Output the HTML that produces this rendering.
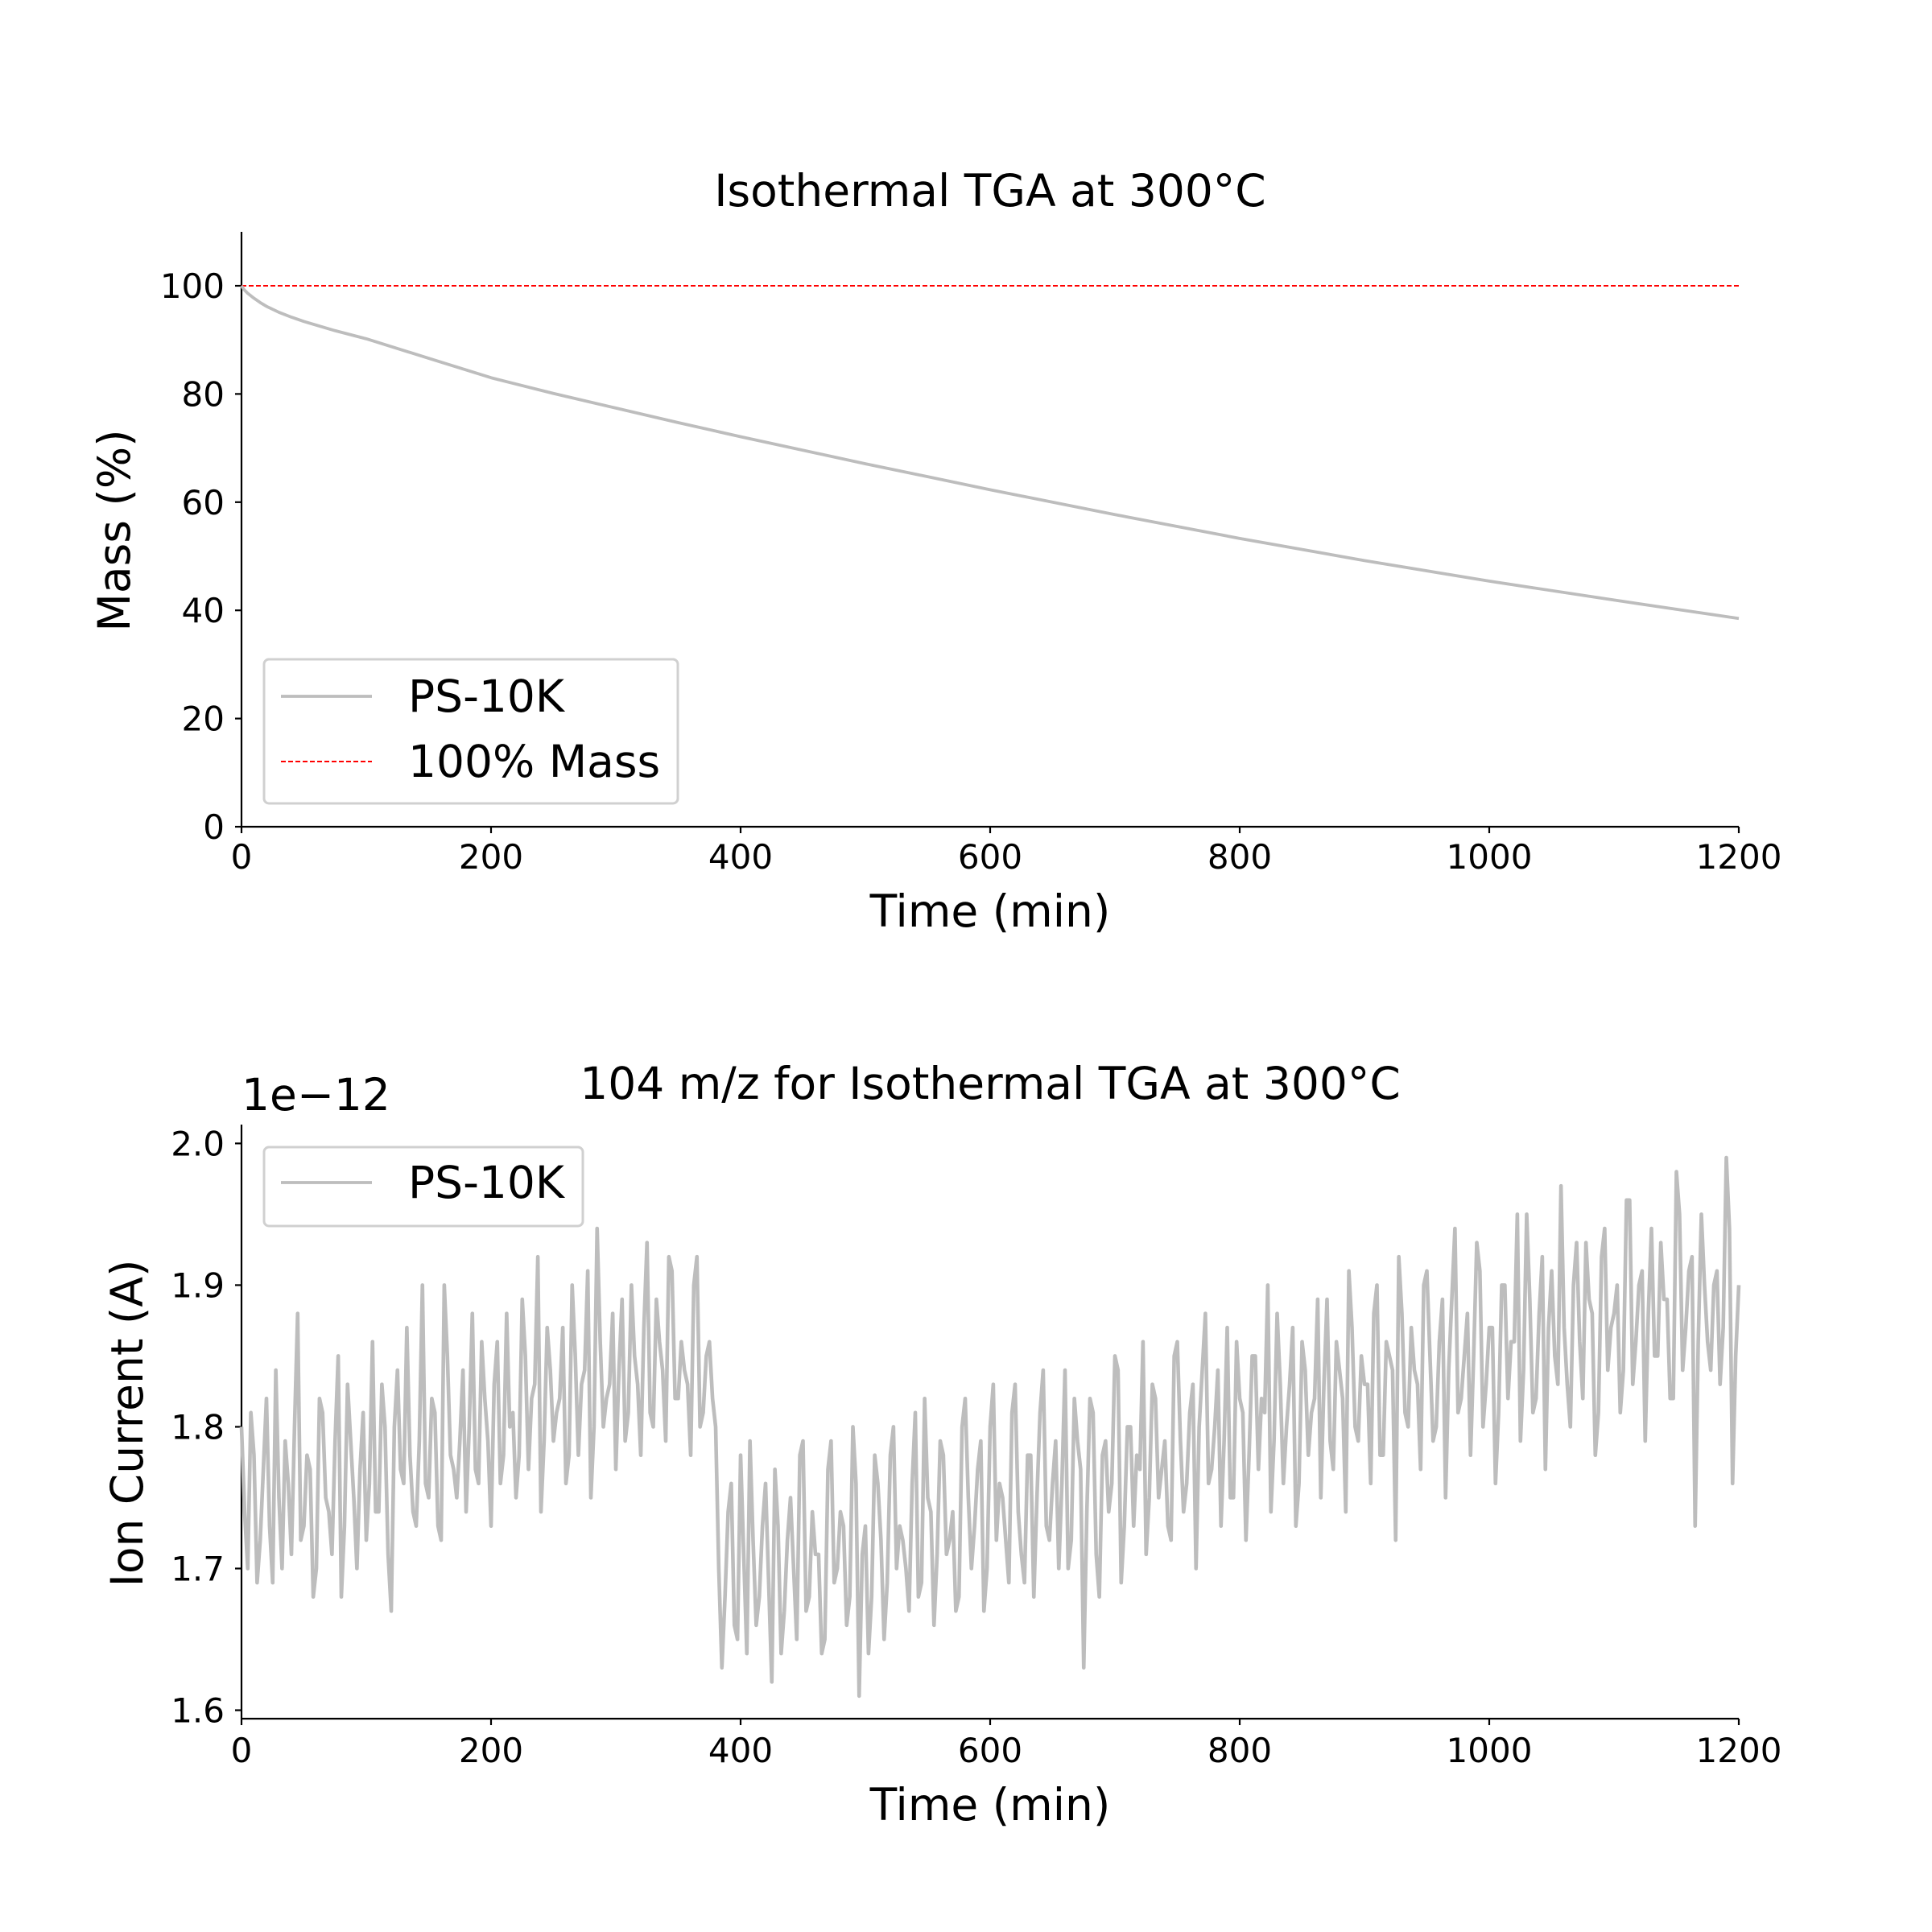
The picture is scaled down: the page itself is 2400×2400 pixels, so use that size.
<!DOCTYPE html>
<html><head><meta charset="utf-8"><style>
html,body{margin:0;padding:0;background:#fff}
svg{display:block;font-family:"DejaVu Sans","Liberation Sans",sans-serif}
</style></head><body>
<svg id="chart" width="2400" height="2400" viewBox="0 0 2400 2400" xmlns="http://www.w3.org/2000/svg">
<rect width="2400" height="2400" fill="#fff"/>
<g id="topPanel"></g>
<g id="botPanel"></g>
</svg>
<script>
const massTimes = [0,2,5,10,15,20,30,40,50,75,100,150,200,250,300,350,400,500,600,700,800,900,1000,1100,1200];
const massValues = [100,99.3,98.6,97.7,96.9,96.2,95.1,94.2,93.4,91.7,90.2,86.6,83,80.1,77.4,74.7,72.1,67.1,62.3,57.7,53.3,49.2,45.4,41.9,38.5];
const refValue = 100;
const xTicks = [0,200,400,600,800,1000,1200];
const massTicks = [0,20,40,60,80,100];
const ionTicks = [1.6,1.7,1.8,1.9,2.0];
const ionStep = 5;
const ionValues = [
1.80,1.70,1.78,1.72,1.82,1.69,1.75,1.79,1.71,1.88,
1.73,1.77,1.70,1.81,1.74,1.79,1.68,1.83,1.75,1.77,
1.72,1.86,1.74,1.80,1.67,1.84,1.76,1.78,1.73,1.90,
1.75,1.81,1.72,1.85,1.77,1.79,1.74,1.88,1.76,1.82,
1.73,1.86,1.78,1.80,1.75,1.89,1.77,1.83,1.74,1.87,
1.79,1.82,1.76,1.90,1.78,1.84,1.75,1.94,1.80,1.83,
1.77,1.89,1.81,1.85,1.78,1.93,1.80,1.86,1.79,1.91,
1.82,1.84,1.78,1.92,1.81,1.86,1.80,
1.63,1.74,1.66,1.78,1.64,1.72,1.68,1.76,1.62,1.73,
1.67,1.75,1.65,1.79,1.68,1.71,1.64,1.77,1.69,1.74,
1.66,1.80,1.61,1.73,1.68,1.76,1.65,1.78,1.70,1.72,
1.67,1.81,1.69,1.75,1.66,1.79,1.71,1.74,1.68,1.82,
1.70,1.77,1.67,1.80,1.72,1.75,1.69,1.83,1.71,1.78,
1.68,1.81,1.73,1.76,1.70,1.84,1.72,1.79,1.63,1.82,
1.71,1.78,1.74,1.85,1.69,1.80,1.73,1.77,1.71,1.83,
1.75,1.79,1.72,1.86,1.74,1.81,1.70,1.84,1.76,1.80,
1.73,1.87,1.75,1.82,1.72,1.85,1.77,1.81,1.74,1.88,
1.76,1.83,1.73,1.86,1.78,1.82,1.75,1.89,1.77,1.84,
1.74,1.87,1.79,1.83,1.76,1.90,1.78,1.85,1.72,1.88,
1.80,1.84,1.77,1.91,1.79,1.86,1.75,1.89,1.81,1.85,
1.78,1.93,1.80,1.87,1.76,1.90,1.82,1.86,1.79,1.95,
1.81,1.88,1.77,1.91,1.83,1.87,1.80,1.93,1.82,1.89,
1.78,1.92,1.84,1.88,1.81,1.96,1.83,1.90,1.79,1.94,
1.85,1.89,1.82,1.98,1.84,1.91,1.73,1.95,1.86,1.90,
1.83,1.99,1.76,1.90];
const ionValuesB = [
1.74,1.81,1.69,1.77,1.73,1.84,1.70,1.76,1.80,1.72,
1.78,1.68,1.82,1.75,1.71,1.85,1.73,1.79,1.70,1.81,
1.76,1.74,1.83,1.71,1.80,1.77,1.87,1.74,1.79,1.76,
1.82,1.73,1.90,1.78,1.75,1.84,1.80,1.77,1.86,1.79,
1.83,1.76,1.88,1.81,1.78,1.85,1.82,1.92,1.79,1.84,
1.81,1.87,1.78,1.85,1.83,1.91,1.80,1.86,1.82,1.88,
1.84,1.79,1.90,1.83,1.87,1.81,1.89,1.84,1.92,1.82,
1.86,1.83,1.90,1.80,1.85,1.82,
1.70,1.68,1.76,1.65,1.71,1.79,1.66,1.73,1.69,1.77,
1.64,1.72,1.70,1.78,1.67,1.74,1.71,1.65,1.79,1.70,
1.73,1.68,1.76,1.71,1.64,1.78,1.72,1.69,1.80,1.73,
1.70,1.76,1.68,1.82,1.74,1.71,1.78,1.72,1.67,1.80,
1.75,1.73,1.79,1.70,1.83,1.76,1.72,1.81,1.74,1.69,
1.78,1.75,1.84,1.72,1.79,1.76,1.70,1.82,1.77,1.74,
1.81,1.68,1.79,1.76,1.84,1.73,1.80,1.78,1.86,1.75,
1.82,1.77,1.73,1.85,1.79,1.76,1.83,1.80,1.88,1.77,
1.84,1.79,1.75,1.86,1.81,1.78,1.85,1.82,1.90,1.79,
1.83,1.80,1.87,1.76,1.84,1.81,1.89,1.83,1.79,1.86,
1.82,1.91,1.80,1.85,1.83,1.88,1.78,1.86,1.84,1.92,
1.81,1.87,1.83,1.90,1.85,1.80,1.89,1.84,1.94,1.82,
1.88,1.85,1.91,1.83,1.87,1.81,1.90,1.86,1.95,1.84,
1.89,1.82,1.92,1.87,1.85,1.97,1.83,1.90,1.86,1.93,
1.88,1.81,1.94,1.87,1.90,1.84,1.96,1.86,1.91,1.88,
1.85,1.93,1.89,1.82,1.95,1.87,1.92,1.86,1.90,1.84,
1.91,1.87,1.94,1.85];

const NS="http://www.w3.org/2000/svg";
function mk(parent,tag,attrs,text){const e=document.createElementNS(NS,tag);for(const k in attrs)e.setAttribute(k,attrs[k]);if(text!==undefined)e.textContent=text;parent.appendChild(e);return e;}
const X0=300,X1=2160;
const xs=t=>X0+(t/1200)*(X1-X0);

function axes(g,ys,yTicks,fmt,yTop,yBot,xLabelY,xTickLabelY){
  let e=mk(g,'line',{x1:X0,y1:yTop,x2:X0,y2:yBot,stroke:'#000','stroke-width':2.2});
  
  
  e=mk(g,'line',{x1:X0,y1:yBot,x2:X1,y2:yBot,stroke:'#000','stroke-width':2.2});
  
  
  xTicks.forEach(t=>{
    mk(g,'line',{x1:xs(t),y1:yBot,x2:xs(t),y2:yBot+8,stroke:'#000','stroke-width':2.2});
    const l=mk(g,'text',{x:xs(t),y:xTickLabelY,'font-size':42,'text-anchor':'middle'},String(t));
    
    
  });
  yTicks.forEach(v=>{
    mk(g,'line',{x1:X0-8,y1:ys(v),x2:X0,y2:ys(v),stroke:'#000','stroke-width':2.2});
    const l=mk(g,'text',{x:X0-21,y:ys(v)+15,'font-size':42,'text-anchor':'end'},fmt(v));
    
    
  });
  const xl=mk(g,'text',{x:(X0+X1)/2,y:xLabelY,'font-size':55,'text-anchor':'middle'},'Time (min)');
  
  
}

// top panel
const topG=document.getElementById('topPanel');
const ysM=v=>1027-(v/100)*(1027-355);
let tx=mk(topG,'text',{x:1230,y:256,'font-size':55,'text-anchor':'middle'},'Isothermal TGA at 300°C');


axes(topG,ysM,massTicks,v=>String(v),288,1027,1151,1079);
tx=mk(topG,'text',{x:0,y:0,'font-size':55,'text-anchor':'middle',transform:'translate(161,659) rotate(-90)'},'Mass (%)');


const refLine=mk(topG,'line',{x1:xs(0),y1:ysM(refValue),x2:xs(1200),y2:ysM(refValue),stroke:'#ff0000','stroke-width':2,'stroke-dasharray':'6,3'});


const massLine=mk(topG,'polyline',{points:massTimes.map((tt,i)=>xs(tt)+','+ysM(massValues[i])).join(' '),fill:'none',stroke:'#bdbdbd','stroke-width':3.8,'stroke-linejoin':'round'});


let lg=mk(topG,'g',{});


mk(lg,'rect',{x:328,y:819,width:514,height:179,rx:6,fill:'#fff',stroke:'#d0d0d0','stroke-width':3});
mk(lg,'line',{x1:349,y1:865,x2:462,y2:865,stroke:'#bdbdbd','stroke-width':3.8});
tx=mk(lg,'text',{x:507,y:884,'font-size':55},'PS-10K');


mk(lg,'line',{x1:349,y1:946,x2:462,y2:946,stroke:'#ff0000','stroke-width':2,'stroke-dasharray':'6,3'});
tx=mk(lg,'text',{x:507,y:965,'font-size':55},'100% Mass');



// bottom panel
const botG=document.getElementById('botPanel');
const ysI=v=>2124.5-(v-1.6)/0.4*(2124.5-1420.4);
tx=mk(botG,'text',{x:1230,y:1365,'font-size':55,'text-anchor':'middle'},'104 m/z for Isothermal TGA at 300°C');


tx=mk(botG,'text',{x:300,y:1379,'font-size':55},'1e\u221212');


axes(botG,ysI,ionTicks,v=>v.toFixed(1),1397,2135,2261,2189);
tx=mk(botG,'text',{x:0,y:0,'font-size':55,'text-anchor':'middle',transform:'translate(177,1768) rotate(-90)'},'Ion Current (A)');


const ionPts=[];
ionValues.forEach((v,i)=>{
  ionPts.push(xs(i*ionStep)+','+ysI(v));
  if(i<ionValuesB.length) ionPts.push(xs(i*ionStep+ionStep/2)+','+ysI(ionValuesB[i]));
});
const ionLine=mk(botG,'polyline',{points:ionPts.join(' '),fill:'none',stroke:'#bdbdbd','stroke-width':4.6,'stroke-linejoin':'round'});


lg=mk(botG,'g',{});


mk(lg,'rect',{x:328,y:1425,width:396,height:98,rx:6,fill:'#fff',stroke:'#d0d0d0','stroke-width':3});
mk(lg,'line',{x1:349,y1:1469,x2:462,y2:1469,stroke:'#bdbdbd','stroke-width':3.8});
tx=mk(lg,'text',{x:507,y:1488,'font-size':55},'PS-10K');


</script>
</body></html>
